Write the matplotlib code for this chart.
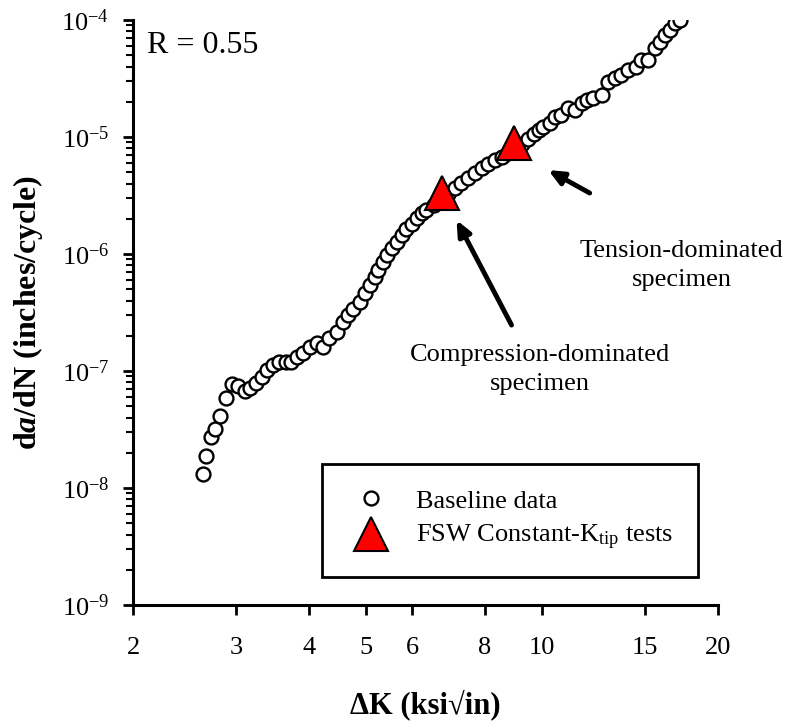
import matplotlib
matplotlib.use("Agg")
import matplotlib.pyplot as plt
from matplotlib.ticker import FixedLocator, NullLocator, LogLocator, NullFormatter

# baseline da/dN data, dK in ksi*sqrt(in), da/dN in inches/cycle
base_dk = [2.63, 2.67, 2.72, 2.76, 2.82, 2.88, 2.95, 3.03, 3.11, 3.17, 3.25, 3.32,
           3.39, 3.47, 3.56, 3.65, 3.73, 3.82, 3.91, 4.01, 4.12, 4.23, 4.33, 4.46,
           4.58, 4.67, 4.76, 4.89, 4.98, 5.08, 5.19, 5.25, 5.36, 5.44, 5.54, 5.65,
           5.76, 5.87, 5.99, 6.11, 6.23, 6.35, 6.54, 6.72, 6.91, 7.10, 7.29, 7.48,
           7.68, 7.89, 8.10, 8.31, 8.54, 8.76, 9.03, 9.25, 9.47, 9.70, 9.89,
           10.06, 10.32, 10.53, 10.81, 11.10, 11.39, 11.70, 11.93, 12.24, 12.66,
           12.99, 13.34, 13.69, 14.05, 14.52, 14.81, 15.20, 15.61, 15.92, 16.24,
           16.56, 16.89, 17.22]
base_rate = [1.31e-8, 1.89e-8, 2.74e-8, 3.19e-8, 4.12e-8, 5.84e-8, 7.69e-8, 7.44e-8,
             6.75e-8, 7.16e-8, 7.94e-8, 8.93e-8, 1.02e-7, 1.125e-7, 1.19e-7, 1.20e-7,
             1.20e-7, 1.33e-7, 1.42e-7, 1.61e-7, 1.73e-7, 1.61e-7, 1.90e-7, 2.17e-7,
             2.64e-7, 3.01e-7, 3.37e-7, 3.91e-7, 4.61e-7, 5.43e-7, 6.40e-7, 7.30e-7,
             8.59e-7, 9.80e-7, 1.12e-6, 1.27e-6, 1.45e-6, 1.63e-6, 1.80e-6, 2.02e-6,
             2.23e-6, 2.38e-6, 2.62e-6, 2.95e-6, 3.26e-6, 3.65e-6, 4.02e-6, 4.44e-6,
             4.90e-6, 5.40e-6, 5.88e-6, 6.36e-6, 6.79e-6, 7.26e-6, 8.05e-6, 8.71e-6,
             9.61e-6, 1.06e-5, 1.15e-5, 1.22e-5, 1.31e-5, 1.49e-5, 1.54e-5, 1.76e-5,
             1.70e-5, 1.94e-5, 2.07e-5, 2.14e-5, 2.29e-5, 2.97e-5, 3.18e-5, 3.39e-5,
             3.74e-5, 3.99e-5, 4.55e-5, 4.55e-5, 5.73e-5, 6.53e-5, 7.44e-5, 8.21e-5,
             9.37e-5, 1.0e-4]

# FSW constant-Ktip tests
fsw_dk = [6.75, 8.96]
fsw_rate = [3.3e-6, 8.9e-6]

xticks = [2, 3, 4, 5, 6, 8, 10, 15, 20]
yticks = [1e-9, 1e-8, 1e-7, 1e-6, 1e-5, 1e-4]

plt.rcParams['font.family'] = ['Liberation Serif', 'DejaVu Serif']
plt.rcParams['mathtext.fontset'] = 'custom'
plt.rcParams['mathtext.rm'] = 'Liberation Serif'
plt.rcParams['mathtext.it'] = 'Liberation Serif:italic:bold'
plt.rcParams['mathtext.bf'] = 'Liberation Serif:bold'

fig = plt.figure(figsize=(7.87, 7.23), dpi=100)
ax = fig.add_axes([0.169, 0.1632, 0.743, 0.8091])

ax.plot(base_dk, base_rate, 'o', ms=10, mfc='white', mec='black', mew=1.7,
        label='Baseline data', zorder=3)
ax.plot(fsw_dk, fsw_rate, '^', ms=24, mfc='red', mec='black', mew=1.5,
        label=r'FSW Constant-K$_{\mathrm{tip}}$ tests', zorder=4)

ax.set_xscale('log')
ax.set_yscale('log')
ax.set_xlim(2, 20)
ax.set_ylim(1e-9, 1e-4)

ax.xaxis.set_major_locator(FixedLocator(xticks))
ax.xaxis.set_minor_locator(NullLocator())
ax.set_xticklabels([str(t) for t in xticks])
ax.yaxis.set_major_locator(FixedLocator(yticks))
ax.yaxis.set_minor_locator(LogLocator(base=10, subs=range(2, 10)))
ax.yaxis.set_minor_formatter(NullFormatter())
ax.set_yticklabels([r'$\mathregular{10^{%d}}$' % p for p in range(-9, -3)])

for s in ['top', 'right']:
    ax.spines[s].set_visible(False)
for s in ['left', 'bottom']:
    ax.spines[s].set_linewidth(2.2)
ax.tick_params(which='major', length=7, width=2, labelsize=19, direction='out', pad=10)
ax.tick_params(which='minor', length=5, width=1.5, direction='out')
ax.tick_params(axis='x', pad=16)

ax.set_xlabel('\u0394K (ksi\u221ain)', fontsize=22, fontweight='bold', labelpad=22)
ax.set_ylabel(r'd$\mathit{a}$/dN (inches/cycle)', fontsize=23, fontweight='bold', labelpad=12)

ax.text(0.024, 0.956, 'R = 0.55', transform=ax.transAxes, fontsize=23, va='center', ha='left')

arrow = dict(arrowstyle='-|>,head_length=0.9,head_width=0.4', lw=3.5, color='black',
             shrinkA=0, shrinkB=0)
ax.annotate('', xy=(7.15, 1.95e-6), xytext=(8.88, 2.47e-7), arrowprops=arrow)
ax.annotate('', xy=(10.26, 5.22e-6), xytext=(12.08, 3.32e-6), arrowprops=arrow)

ax.text(0.696, 0.402, 'Compression-dominated\nspecimen', transform=ax.transAxes,
        fontsize=19, ha='center', va='center', linespacing=1.4)
ax.text(0.9385, 0.581, 'Tension-dominated\nspecimen', transform=ax.transAxes,
        fontsize=19, ha='center', va='center', linespacing=1.4)

leg = ax.legend(loc='upper left', bbox_to_anchor=(0.409, 0.358), bbox_transform=fig.transFigure,
                fontsize=19, frameon=True, fancybox=False, borderpad=0.95,
                handlelength=1.8, handletextpad=0.8, borderaxespad=0, labelspacing=0.4)
leg.get_frame().set_edgecolor('black')
leg.get_frame().set_linewidth(2)
leg.get_frame().set_alpha(1)

fig.savefig('out.png', dpi=100)
